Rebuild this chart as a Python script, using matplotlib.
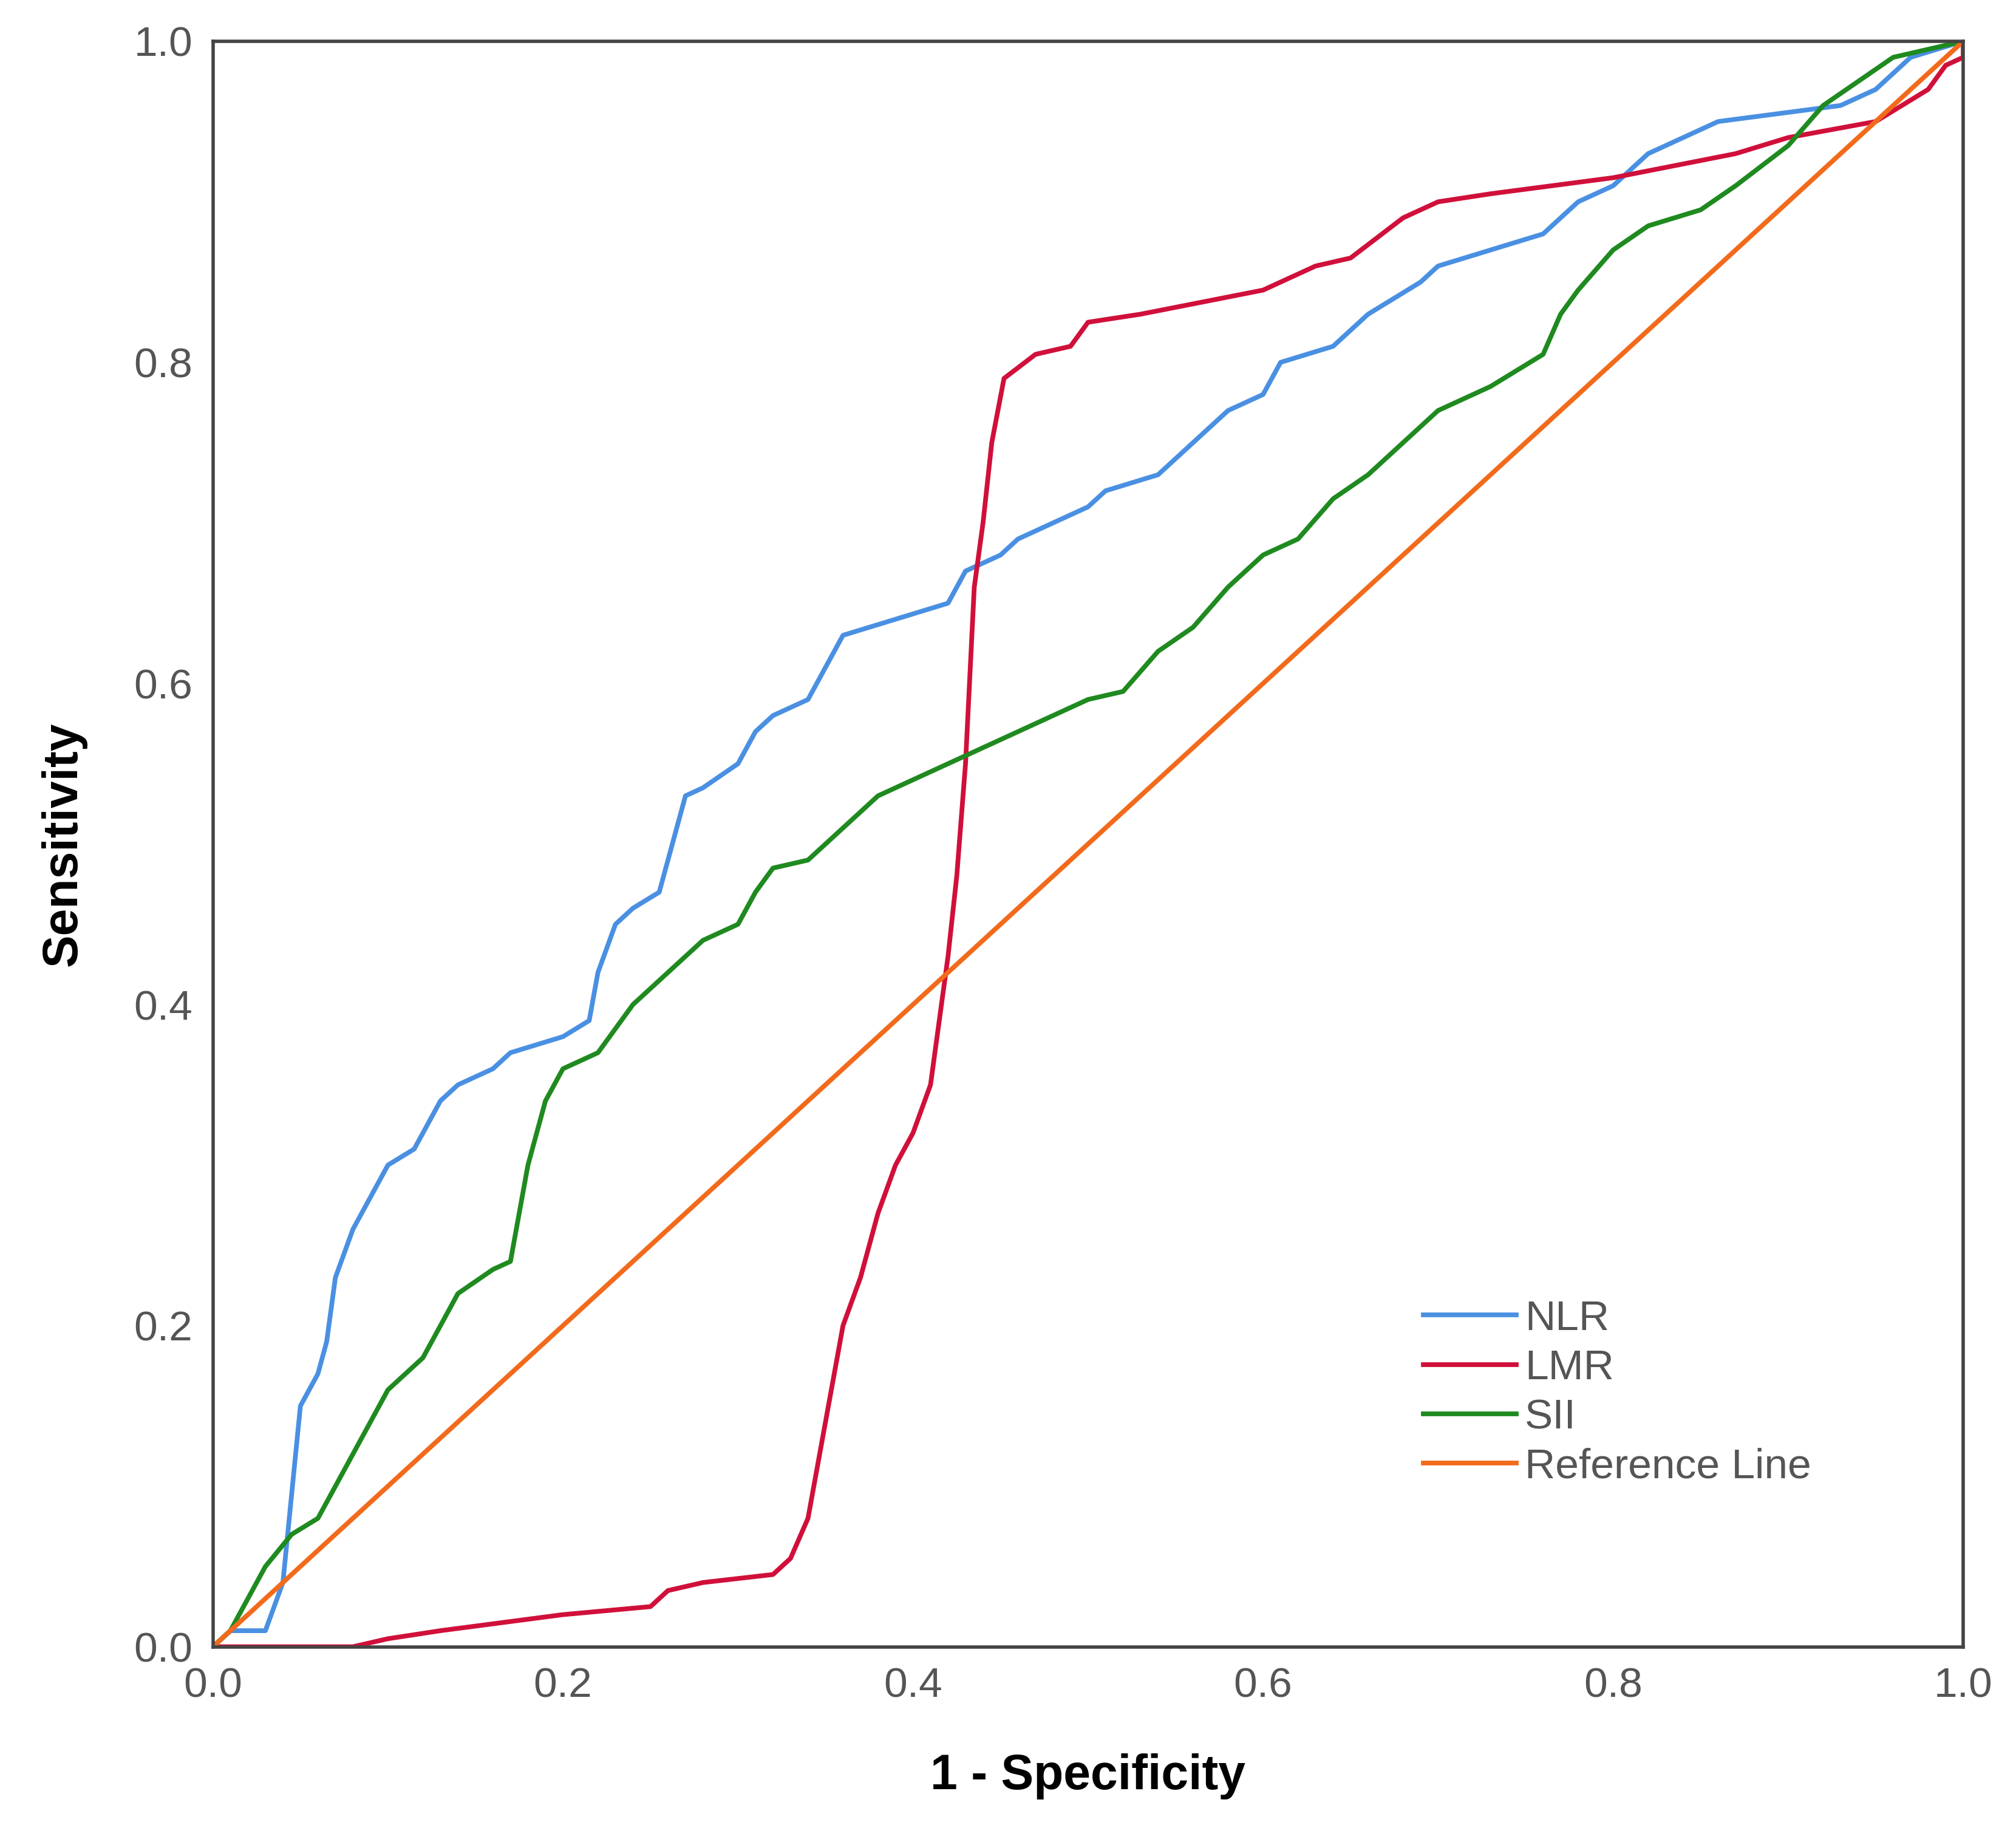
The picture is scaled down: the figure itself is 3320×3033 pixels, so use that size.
import matplotlib
matplotlib.use("Agg")
import matplotlib.pyplot as plt

plt.rcParams["font.family"] = "Liberation Sans"

# ROC curve points
nlr_x = [0, 0.01, 0.03, 0.04, 0.05, 0.06, 0.065, 0.07, 0.08, 0.09, 0.1, 0.115, 0.13, 0.14, 0.16, 0.17, 0.2,
         0.215, 0.22, 0.23, 0.24, 0.255, 0.26, 0.27, 0.28, 0.3, 0.31, 0.32, 0.34, 0.35, 0.36, 0.42, 0.43, 0.45,
         0.46, 0.48, 0.5, 0.51, 0.54, 0.56, 0.58, 0.6, 0.61, 0.64, 0.66, 0.69, 0.7, 0.73, 0.76, 0.78, 0.8, 0.82,
         0.84, 0.86, 0.93, 0.95, 0.97, 1]
nlr_y = [0, 0.01, 0.01, 0.04, 0.15, 0.17, 0.19, 0.23, 0.26, 0.28, 0.30, 0.31, 0.34, 0.35, 0.36, 0.37, 0.38,
         0.39, 0.42, 0.45, 0.46, 0.47, 0.49, 0.53, 0.535, 0.55, 0.57, 0.58, 0.59, 0.61, 0.63, 0.65, 0.67, 0.68,
         0.69, 0.70, 0.71, 0.72, 0.73, 0.75, 0.77, 0.78, 0.80, 0.81, 0.83, 0.85, 0.86, 0.87, 0.88, 0.90, 0.91,
         0.93, 0.94, 0.95, 0.96, 0.97, 0.99, 1]

lmr_x = [0, 0.08, 0.1, 0.13, 0.2, 0.25, 0.26, 0.28, 0.32, 0.33, 0.34, 0.35, 0.36, 0.37, 0.38, 0.39, 0.4,
         0.41, 0.415, 0.42, 0.425, 0.43, 0.435, 0.44, 0.445, 0.452, 0.47, 0.49, 0.5, 0.53, 0.6, 0.63, 0.65,
         0.68, 0.7, 0.73, 0.8, 0.87, 0.9, 0.95, 0.98, 0.99, 1, 1]
lmr_y = [0, 0, 0.005, 0.01, 0.02, 0.025, 0.035, 0.04, 0.045, 0.055, 0.08, 0.14, 0.2, 0.23, 0.27, 0.3, 0.32,
         0.35, 0.39, 0.43, 0.48, 0.55, 0.66, 0.7, 0.75, 0.79, 0.805, 0.81, 0.825, 0.83, 0.845, 0.86, 0.865,
         0.89, 0.9, 0.905, 0.915, 0.93, 0.94, 0.95, 0.97, 0.985, 0.99, 1]

sii_x = [0, 0.01, 0.02, 0.03, 0.045, 0.06, 0.07, 0.09, 0.1, 0.12, 0.13, 0.14, 0.16, 0.17, 0.18, 0.19, 0.2,
         0.22, 0.24, 0.26, 0.28, 0.3, 0.31, 0.32, 0.34, 0.36, 0.38, 0.4, 0.42, 0.45, 0.47, 0.5, 0.52, 0.54,
         0.56, 0.58, 0.6, 0.62, 0.64, 0.66, 0.68, 0.7, 0.73, 0.76, 0.77, 0.78, 0.8, 0.82, 0.85, 0.87, 0.9,
         0.92, 0.94, 0.96, 1]
sii_y = [0, 0.01, 0.03, 0.05, 0.07, 0.08, 0.1, 0.14, 0.16, 0.18, 0.2, 0.22, 0.235, 0.24, 0.3, 0.34, 0.36,
         0.37, 0.4, 0.42, 0.44, 0.45, 0.47, 0.485, 0.49, 0.51, 0.53, 0.54, 0.55, 0.565, 0.575, 0.59, 0.595,
         0.62, 0.635, 0.66, 0.68, 0.69, 0.715, 0.73, 0.75, 0.77, 0.785, 0.805, 0.83, 0.845, 0.87, 0.885,
         0.895, 0.91, 0.935, 0.96, 0.975, 0.99, 1]

ref_x = [0, 1]
ref_y = [0, 1]

fig = plt.figure(figsize=(16.6, 15.165), dpi=200)
ax = fig.add_axes([0.1056, 0.106, 0.8682, 0.8716])

ax.plot(nlr_x, nlr_y, color="#4a90e2", lw=2.8, label="NLR")
ax.plot(lmr_x, lmr_y, color="#d0103a", lw=2.8, label="LMR")
ax.plot(sii_x, sii_y, color="#1f8a1f", lw=2.8, label="SII")
ax.plot(ref_x, ref_y, color="#f26a1b", lw=2.8, label="Reference Line")

ax.set_xlim(0, 1)
ax.set_ylim(0, 1)
ticks = [0.0, 0.2, 0.4, 0.6, 0.8, 1.0]
ax.set_xticks(ticks)
ax.set_yticks(ticks)
ax.set_xticklabels([f"{t:.1f}" for t in ticks])
ax.set_yticklabels([f"{t:.1f}" for t in ticks])
ax.tick_params(labelsize=25, labelcolor="#555555", length=0, pad=12)
for s in ax.spines.values():
    s.set_color("#444444")
    s.set_linewidth(2)

ax.set_xlabel("1 - Specificity", fontsize=29, fontweight="bold", labelpad=28)
ax.set_ylabel("Sensitivity", fontsize=29, fontweight="bold", labelpad=28)

leg = ax.legend(loc="upper left", bbox_to_anchor=(0.67, 0.24), frameon=False,
                fontsize=25, handlelength=2.2, labelspacing=0.25, handletextpad=0.2)
for t in leg.get_texts():
    t.set_color("#555555")

fig.savefig("out.png", dpi=200)
